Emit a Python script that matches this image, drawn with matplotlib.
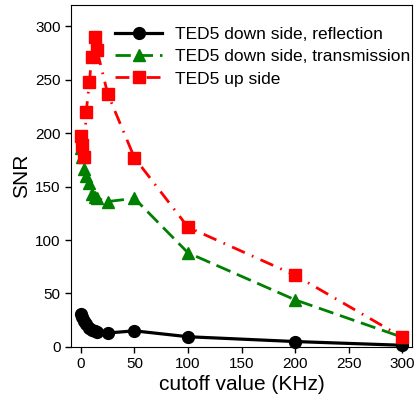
import numpy as np
import matplotlib as mpl
mpl.use("Agg")
import matplotlib.pyplot as plt

plt.rcParams['font.family'] = ['Liberation Sans', 'DejaVu Sans']

# cutoff values (KHz)
cutoff = [0, 1, 3, 5, 8, 10, 13, 15, 25, 50, 100, 200, 300]
# SNR per series
snr_reflection = [31, 28, 24, 21, 18, 16, 15, 14, 13, 15, 9.5, 5, 1.5]
snr_transmission = [186, 178, 166, 160, 153, 143, 140, 139, 136, 139, 88, 44, 9]
snr_up = [197, 189, 178, 220, 248, 271, 290, 278, 237, 177, 112, 67, 9]

xticks = [0, 50, 100, 150, 200, 250, 300]
yticks = [0, 50, 100, 150, 200, 250, 300]

fig = plt.figure(figsize=(4.17, 4.11), dpi=100)
ax = fig.add_axes([0.170, 0.156, 0.818, 0.832])

ax.plot(cutoff, snr_reflection, '-', color='black', lw=2.3,
        marker='o', ms=8.5, clip_on=False, zorder=3,
        label='TED5 down side, reflection')
ax.plot(cutoff, snr_transmission, color='green', lw=2.0,
        dashes=(5.5, 2.5), marker='^', ms=8.5, clip_on=False, zorder=3,
        label='TED5 down side, transmission')
ax.plot(cutoff, snr_up, color='red', lw=2.0,
        dashes=(5.0, 2.8, 0.6, 2.8), marker='s', ms=8.5, clip_on=False, zorder=3,
        label='TED5 up side')

ax.set_xlim(-9.3, 309)
ax.set_ylim(0, 320)
ax.set_xticks(xticks)
ax.set_yticks(yticks)
ax.tick_params(labelsize=11, direction='out', length=4, width=1,
               top=False, right=False)
ax.set_xlabel('cutoff value (KHz)', fontsize=15, labelpad=3)
ax.set_ylabel('SNR', fontsize=15, labelpad=3)

ax.legend(loc='upper left', bbox_to_anchor=(0.128, 0.937), frameon=False,
          fontsize=12.5, handlelength=2.76, handletextpad=0.75,
          labelspacing=0.42, borderpad=0, borderaxespad=0)

fig.savefig('out.png', dpi=100)
